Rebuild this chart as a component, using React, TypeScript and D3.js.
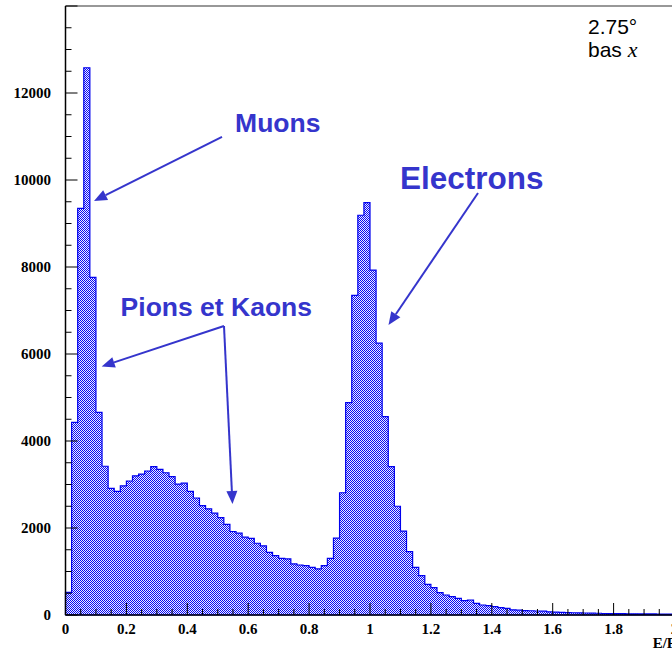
import React, { useEffect, useRef } from "react";
import * as d3 from "d3";

// E/P histogram, 100 bins of 0.02 from 0 to 2
const binStart = 0;
const binWidth = 0.02;
const counts = [
  520, 4430, 9350, 12580, 7760, 4660, 3420, 2910, 2840, 2970,
  3080, 3200, 3240, 3310, 3410, 3350, 3270, 3180, 3010, 3030,
  2840, 2690, 2515, 2440, 2340, 2240, 2085, 1920, 1880, 1790,
  1760, 1650, 1590, 1440, 1365, 1300, 1290, 1175, 1150, 1135,
  1095, 1060, 1135, 1300, 1765, 2810, 4880, 7350, 9190, 9480,
  7930, 6250, 4560, 3410, 2500, 1930, 1457, 1096, 905, 705,
  630, 514, 460, 422, 383, 330, 345, 268, 230, 215,
  192, 169, 153, 120, 110, 100, 98, 92, 88, 72,
  68, 62, 55, 52, 50, 46, 42, 40, 35, 32,
  30, 30, 28, 27, 25, 24, 25, 22, 20, 20,
];

const xTicks = [0, 0.2, 0.4, 0.6, 0.8, 1, 1.2, 1.4, 1.6, 1.8, 2];
const yTicks = [0, 2000, 4000, 6000, 8000, 10000, 12000];

// annotations in data units: label + arrows (from -> to)
const labels = [
  { text: "Muons", x: 0.557, y: 11104, size: 26.5 },
  { text: "Pions et Kaons", x: 0.181, y: 6874, size: 26.5 },
  { text: "Electrons", x: 1.0985, y: 9782, size: 31.5 },
];
const arrows = [
  { x0: 0.514, y0: 10989, x1: 0.0936, y1: 9517 },
  { x0: 0.5205, y0: 6644, x1: 0.1189, y1: 5713 },
  { x0: 0.5205, y0: 6644, x1: 0.5484, y1: 2552 },
  { x0: 1.3547, y0: 9702, x1: 1.0608, y1: 6667 },
];

const W = 672;
const H = 649;
const annColor = "#3535cc";

const App: React.FC = () => {
  const ref = useRef<SVGSVGElement | null>(null);

  useEffect(() => {
    if (!ref.current) return;
    const svg = d3.select(ref.current);
    svg.selectAll("*").remove();

    const x = d3.scaleLinear().domain([0, 2]).range([65.5, 674.5]);
    const y = d3.scaleLinear().domain([0, 14000]).range([615, 6]);

    // blue/white checker fill like ROOT's hatch style
    const defs = svg.append("defs");
    const pat = defs
      .append("pattern")
      .attr("id", "hatch")
      .attr("patternUnits", "userSpaceOnUse")
      .attr("width", 2)
      .attr("height", 2);
    pat.append("rect").attr("width", 2).attr("height", 2).attr("fill", "#eeeeff");
    pat.append("rect").attr("width", 1).attr("height", 1).attr("fill", "#0808f5").attr("shape-rendering", "crispEdges");
    pat.append("rect").attr("x", 1).attr("y", 1).attr("width", 1).attr("height", 1).attr("fill", "#0808f5").attr("shape-rendering", "crispEdges");

    // step outline of histogram
    const pts: [number, number][] = [[x(binStart), y(0)]];
    counts.forEach((c, i) => {
      const a = binStart + i * binWidth;
      pts.push([x(a), y(c)]);
      pts.push([x(a + binWidth), y(c)]);
    });
    pts.push([x(binStart + counts.length * binWidth), y(0)]);

    svg
      .append("path")
      .attr("d", d3.line()(pts) + "Z")
      .attr("fill", "url(#hatch)")
      .attr("stroke", "#0000ee")
      .attr("stroke-width", 1.2);

    // frame
    svg
      .append("line")
      .attr("x1", x(0)).attr("x2", W)
      .attr("y1", y(14000)).attr("y2", y(14000))
      .attr("stroke", "#333").attr("stroke-width", 1.2);

    // y axis
    const yAxis = svg.append("g");
    yAxis
      .append("line")
      .attr("x1", x(0)).attr("x2", x(0))
      .attr("y1", y(0)).attr("y2", y(14000))
      .attr("stroke", "#000").attr("stroke-width", 1.5);
    d3.range(0, 14001, 500).forEach((v) => {
      const major = v % 2000 === 0;
      yAxis
        .append("line")
        .attr("x1", x(0)).attr("x2", x(0) + (major ? 12 : 6))
        .attr("y1", y(v)).attr("y2", y(v))
        .attr("stroke", "#000").attr("stroke-width", 1);
    });
    yAxis
      .selectAll("text")
      .data(yTicks)
      .enter()
      .append("text")
      .attr("x", 51)
      .attr("y", (d) => y(d))
      .attr("dy", "0.35em")
      .attr("text-anchor", "end")
      .style("font", "bold 15px 'Liberation Serif', serif")
      .text((d) => String(d));

    // x axis
    const xAxis = svg.append("g");
    xAxis
      .append("line")
      .attr("x1", x(0)).attr("x2", W)
      .attr("y1", y(0)).attr("y2", y(0))
      .attr("stroke", "#000").attr("stroke-width", 1.5);
    d3.range(0, 41).forEach((k) => {
      const v = k * 0.05;
      const major = k % 4 === 0;
      xAxis
        .append("line")
        .attr("x1", x(v)).attr("x2", x(v))
        .attr("y1", y(0)).attr("y2", y(0) - (major ? 12 : 6))
        .attr("stroke", "#000").attr("stroke-width", 1);
    });
    xAxis
      .selectAll("text")
      .data(xTicks)
      .enter()
      .append("text")
      .attr("x", (d) => x(d))
      .attr("y", 634)
      .attr("text-anchor", "middle")
      .style("font", "bold 15px 'Liberation Serif', serif")
      .text((d) => String(d));
    svg
      .append("text")
      .attr("x", 676)
      .attr("y", 648)
      .attr("text-anchor", "end")
      .style("font", "bold 15px 'Liberation Serif', serif")
      .text("E/P");

    // annotations
    arrows.forEach((a) => {
      const sx = x(a.x0), sy = y(a.y0), tx = x(a.x1), ty = y(a.y1);
      const ang = Math.atan2(ty - sy, tx - sx);
      const len = 13, hw = 5.5;
      const bx = tx - len * Math.cos(ang), by = ty - len * Math.sin(ang);
      svg
        .append("line")
        .attr("x1", sx).attr("y1", sy).attr("x2", bx).attr("y2", by)
        .attr("stroke", annColor).attr("stroke-width", 2);
      svg
        .append("polygon")
        .attr(
          "points",
          [
            [tx, ty],
            [bx + hw * Math.sin(ang), by - hw * Math.cos(ang)],
            [bx - hw * Math.sin(ang), by + hw * Math.cos(ang)],
          ]
            .map((p) => p.join(","))
            .join(" ")
        )
        .attr("fill", annColor);
    });
    svg
      .selectAll("text.ann")
      .data(labels)
      .enter()
      .append("text")
      .attr("class", "ann")
      .attr("x", (d) => x(d.x))
      .attr("y", (d) => y(d.y))
      .attr("fill", annColor)
      .style("font-family", "'Liberation Sans', Arial, sans-serif")
      .style("font-weight", "bold")
      .style("font-size", (d) => `${d.size}px`)
      .text((d) => d.text);

    // top-right note
    const note = svg
      .append("g")
      .style("font-family", "'Liberation Sans', Arial, sans-serif")
      .style("font-size", "21px");
    note.append("text").attr("x", 588).attr("y", 34).text("2.75°");
    const l2 = note.append("text").attr("x", 588).attr("y", 57);
    l2.append("tspan").text("bas ");
    l2.append("tspan")
      .style("font-family", "'Liberation Serif', serif")
      .style("font-style", "italic")
      .style("font-size", "22px")
      .text("x");
  }, []);

  return (
    <svg
      ref={ref}
      width={W}
      height={H}
      style={{ position: "absolute", left: 0, top: 0, background: "#fff" }}
    />
  );
};

export default App;
